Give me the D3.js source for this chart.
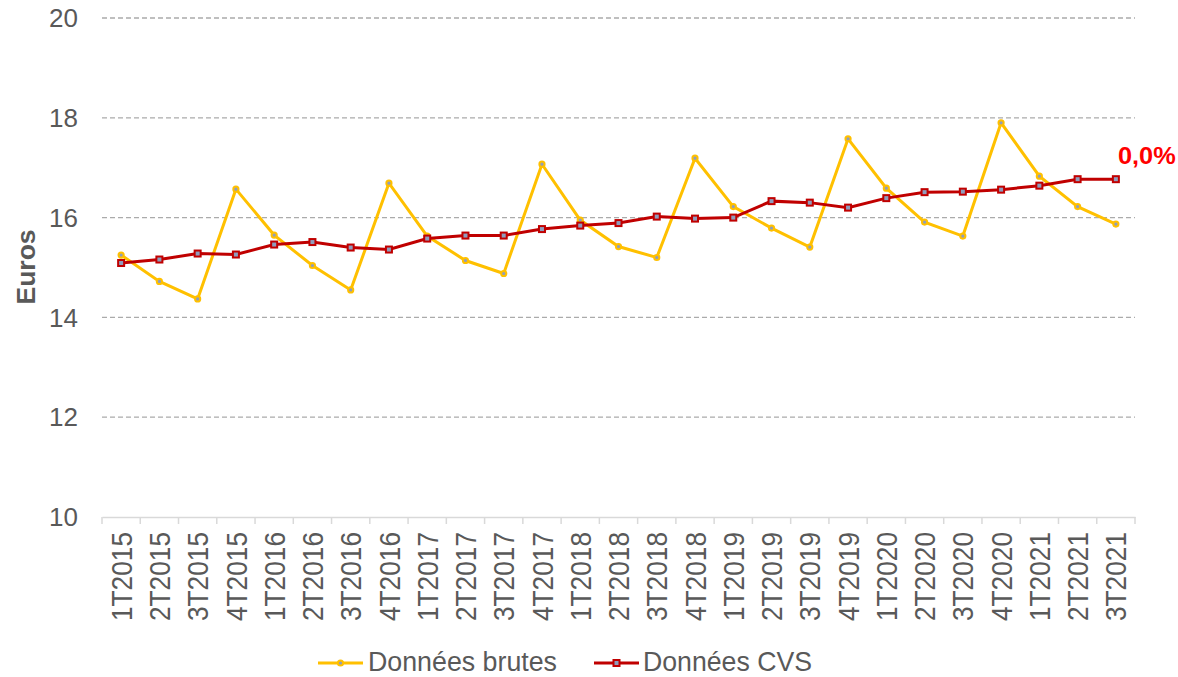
<!DOCTYPE html>
<html><head><meta charset="utf-8">
<script src="https://cdn.jsdelivr.net/npm/d3@7"></script>
<style>body{margin:0;background:#fff;}svg{display:block;font-family:"Liberation Sans",Arial,sans-serif;}</style>
</head><body>
<svg id="c" width="1178" height="677"></svg>
<script>
const categories = ["1T2015","2T2015","3T2015","4T2015","1T2016","2T2016","3T2016","4T2016","1T2017","2T2017","3T2017","4T2017","1T2018","2T2018","3T2018","4T2018","1T2019","2T2019","3T2019","4T2019","1T2020","2T2020","3T2020","4T2020","1T2021","2T2021","3T2021"];
const brutes = [15.25,14.72,14.37,16.57,15.65,15.04,14.55,16.69,15.63,15.14,14.88,17.07,15.95,15.42,15.20,17.19,16.22,15.79,15.41,17.58,16.59,15.91,15.63,17.90,16.83,16.22,15.87];
const cvs = [15.09,15.16,15.28,15.26,15.46,15.51,15.40,15.36,15.58,15.64,15.64,15.77,15.84,15.89,16.02,15.98,16.00,16.33,16.30,16.20,16.39,16.51,16.52,16.56,16.64,16.77,16.77];
const yTicks = [10,12,14,16,18,20];
const seriesNames = ["Données brutes","Données CVS"];
const lastLabel = "0,0%";

const svg = d3.select("#c");
const x = d3.scaleBand().domain(categories).range([102,1135]);
const y = d3.scaleLinear().domain([10,20]).range([517,18]);
const cx = d => x(d) + x.bandwidth()/2;
const txt = "#595959";

// gridlines
svg.append("g").selectAll("line").data(yTicks.filter(t=>t!==10)).join("line")
  .attr("x1",102).attr("x2",1135).attr("y1",d=>y(d)).attr("y2",d=>y(d))
  .attr("stroke","#ABABAB").attr("stroke-width",1.3).attr("stroke-dasharray","5,3");

// y tick labels
svg.append("g").selectAll("text").data(yTicks).join("text")
  .attr("x",78).attr("y",d=>y(d)).attr("dy","0.35em").attr("text-anchor","end")
  .attr("fill",txt).style("font-size","26px").text(d=>d);

// x axis
const xa = svg.append("g").attr("transform","translate(0,517)")
  .call(d3.axisBottom(x).tickSize(0).tickFormat(""));
xa.select(".domain").attr("stroke","#D9D9D9").attr("stroke-width",1.5);
const bounds = categories.map(c=>x(c)).concat([1135]);
svg.append("g").selectAll("line").data(bounds).join("line")
  .attr("x1",d=>d).attr("x2",d=>d).attr("y1",517).attr("y2",524)
  .attr("stroke","#D9D9D9").attr("stroke-width",1.5);
svg.append("g").selectAll("text").data(categories).join("text")
  .attr("transform",d=>`translate(${cx(d)},532) rotate(-90)`)
  .attr("text-anchor","end").attr("dy","0.36em")
  .attr("textLength",89).attr("lengthAdjust","spacingAndGlyphs")
  .attr("fill",txt).style("font-size","29.5px").text(d=>d);

// y label
svg.append("text").attr("transform","translate(35,267) rotate(-90)")
  .attr("text-anchor","middle").attr("fill",txt).style("font-size","26.5px")
  .style("font-weight","bold").text("Euros");

const markerFill = "#8F9DBD";
const line = d3.line().x((d,i)=>cx(categories[i])).y(d=>y(d));

svg.append("path").datum(brutes).attr("d",line).attr("fill","none")
  .attr("stroke","#FFC000").attr("stroke-width",3);
svg.append("g").selectAll("circle").data(brutes).join("circle")
  .attr("cx",(d,i)=>cx(categories[i])).attr("cy",d=>y(d)).attr("r",2.6)
  .attr("fill",markerFill).attr("stroke","#FFC000").attr("stroke-width",2);

svg.append("path").datum(cvs).attr("d",line).attr("fill","none")
  .attr("stroke","#C00000").attr("stroke-width",3);
svg.append("g").selectAll("rect").data(cvs).join("rect")
  .attr("x",(d,i)=>cx(categories[i])-3).attr("y",d=>y(d)-3).attr("width",6).attr("height",6)
  .attr("fill",markerFill).attr("stroke","#C00000").attr("stroke-width",2);

// last label
svg.append("text").attr("transform","translate(1118,164) scale(1.1,1)").attr("fill","#FF0000")
  .style("font-size","23px").style("font-weight","bold").text(lastLabel);

// legend
const lg = svg.append("g");
const items = [{x1:318,x2:363,tx:368,tl:189,color:"#FFC000",shape:"circle"},{x1:594,x2:639,tx:643,tl:169,color:"#C00000",shape:"rect"}];
items.forEach((it,i)=>{
  lg.append("line").attr("x1",it.x1).attr("x2",it.x2).attr("y1",663).attr("y2",663)
    .attr("stroke",it.color).attr("stroke-width",3);
  const m = (it.x1+it.x2)/2;
  if(it.shape==="circle"){
    lg.append("circle").attr("cx",m).attr("cy",663).attr("r",2.6).attr("fill",markerFill)
      .attr("stroke",it.color).attr("stroke-width",2);
  } else {
    lg.append("rect").attr("x",m-3).attr("y",660).attr("width",6).attr("height",6)
      .attr("fill",markerFill).attr("stroke",it.color).attr("stroke-width",2);
  }
  lg.append("text").attr("x",it.tx).attr("y",671)
    .attr("textLength",it.tl).attr("lengthAdjust","spacingAndGlyphs").attr("fill",txt)
    .style("font-size","27.5px").text(seriesNames[i]);
});
</script>
</body></html>
